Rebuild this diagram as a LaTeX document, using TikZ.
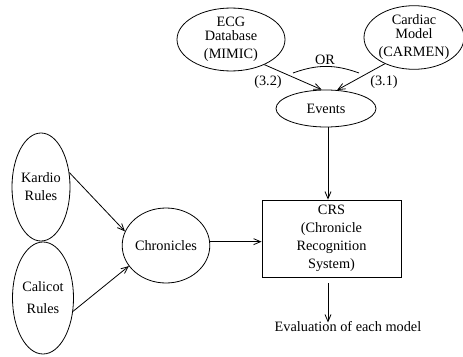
\documentclass[tikz,border=0pt]{standalone}
\usepackage{fontspec}
\setmainfont{Liberation Serif}
\usetikzlibrary{positioning,shapes.geometric,arrows.meta}

\begin{document}
\begin{tikzpicture}[x=1pt, y=1pt, line width=0.8pt, >={Straight Barb[length=7pt,width=6pt]},
    font=\fontsize{14.3}{18}\selectfont,
    oval/.style={ellipse, draw, inner sep=0pt, align=center},
    plain/.style={inner sep=1pt, align=center}]
\useasboundingbox (0,0) rectangle (463,-356);
			\node [oval, minimum width=108pt, minimum height=55pt] (ECG) at (231,-39.5) {ECG\\[-4pt]Database\\(MIMIC)};
			\node [oval, minimum width=94pt, minimum height=55pt] (CARDIAC) at (414,-37.5) {Cardiac\\[-4pt]Model\\(CARMEN)};
			\node [oval, minimum width=100pt, minimum height=37pt] (EVENTS) at (326,-108.5) {Events};
			\node [draw, rectangle, minimum width=139pt, minimum height=77pt, align=center] (CRS) at (331.5,-238.5) {CRS\\(Chronicle\\Recognition\\System)};
			\node [oval, minimum width=84pt, minimum height=75pt] (CHRON) at (166,-245.5) {Chronicles};
			\node [oval, minimum width=58pt, minimum height=108pt] (KARDIO) at (41,-187) {Kardio\\Rules};
			\node [oval, minimum width=61pt, minimum height=112pt] (CALICOT) at (43,-298) {Calicot\\[4pt]Rules};
			\node [plain] (EVAL) at (348,-327) {Evaluation of each model};
			\node [plain] (OR) at (325,-60) {OR};
			\node [plain] (L32) at (268,-82) {(3.2)};
			\node [plain] (L31) at (384,-82) {(3.1)};
			\coordinate (ORA) at (293,-73);
			\coordinate (ORB) at (359,-73);
			\draw [->] (ECG.-37) -- (EVENTS.103);
			\draw [->] (CARDIAC.-138) -- (EVENTS.59);
			\draw (ORA) to [bend left=20] (ORB);
			\draw [->] ([xshift=2pt]EVENTS.south) -- ([xshift=2pt]EVENTS.south |- CRS.north);
			\draw [->] ([xshift=2pt,yshift=-6pt]EVENTS.south |- CRS.south) -- ([xshift=2pt,yshift=-2pt]EVENTS.south |- EVAL.north);
			\draw [->] (KARDIO.27) -- (CHRON.161);
			\draw [->] (CALICOT.-24) -- (CHRON.-151);
			\draw [->] (CHRON.5) -- (CHRON.5 -| CRS.west);
		\end{tikzpicture}
\end{document}
